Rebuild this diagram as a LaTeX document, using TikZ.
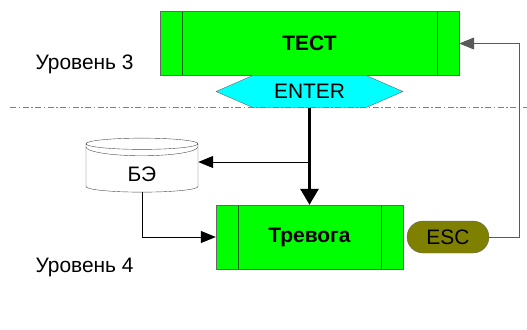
\documentclass[tikz,border=0pt]{standalone}
\usepackage{fontspec}
\setmainfont{Liberation Sans}
\usetikzlibrary{arrows.meta,shapes.geometric,shapes.symbols,shapes.misc}

\begin{document}
\begin{tikzpicture}[x=1bp,y=-1bp,
  txt/.style={font=\fontsize{21}{24}\selectfont},
  proc/.style={font=\fontsize{21}{24}\selectfont\bfseries,draw=black!60,fill=green,minimum height=64bp,
    path picture={
      \draw[green!40!black] ([xshift=22bp]path picture bounding box.north west) -- ([xshift=22bp]path picture bounding box.south west);
      \draw[green!40!black] ([xshift=-22bp]path picture bounding box.north east) -- ([xshift=-22bp]path picture bounding box.south east);}},
  keybox/.style={txt,shape=signal,signal to=east and west,signal pointer angle=47,draw=black!60,fill={rgb,255:red,0;green,255;blue,255},minimum width=187bp,minimum height=32bp,inner sep=0pt},
  store/.style={txt,shape=cylinder,shape border rotate=90,aspect=0.32,draw=black!70,fill=white,minimum width=112bp,minimum height=54bp,text height=25bp,text depth=0pt},
  escbox/.style={txt,shape=rounded rectangle,draw=black!60,fill={rgb,255:red,128;green,128;blue,0},minimum width=82bp,minimum height=32bp,inner sep=0pt},
  flow/.style={black,line width=1bp,-{Triangle[length=15bp,width=12bp]}},
  bigflow/.style={line width=3bp,-{Triangle[length=16bp,width=18bp]}},
  sepline/.style={gray,line width=1bp,dash pattern=on 6bp off 2.5bp on 1.5bp off 2.5bp}]
\useasboundingbox (0,0) rectangle (527,329);

\node[proc,minimum width=299bp] (test) at (309.5,43.5) {ТЕСТ};
\node[keybox] (enter) at (309.5,91.5) {ENTER};
\node[proc,minimum width=187bp] (alarm) at (309.5,237) {Тревога};
\node[store] (db) at (142,169) {БЭ};
\node[escbox] (esc) at (448,237) {ESC};
\node[txt,anchor=west] (lev3) at (32,64) {Уровень 3};
\node[txt,anchor=west] (lev4) at (32,267) {Уровень 4};
\draw[black!70] ([yshift=-3bp]db.west |- db.before top) arc (180:360:56bp and 9bp);

\coordinate (sepL) at (10,107);
\coordinate (sepR) at (527,107);
\draw[sepline] (sepL) -- (sepR);

\draw[bigflow] (enter.south) -- (alarm.north);
\draw[flow] ([yshift=7bp]db.east -| enter.south) -- ([yshift=7bp]db.east);
\draw[flow] (db.south) |- (alarm.west);
\draw[flow,black!65] (esc.east) -- ++(30,0) |- (test.east);
\end{tikzpicture}
\end{document}
